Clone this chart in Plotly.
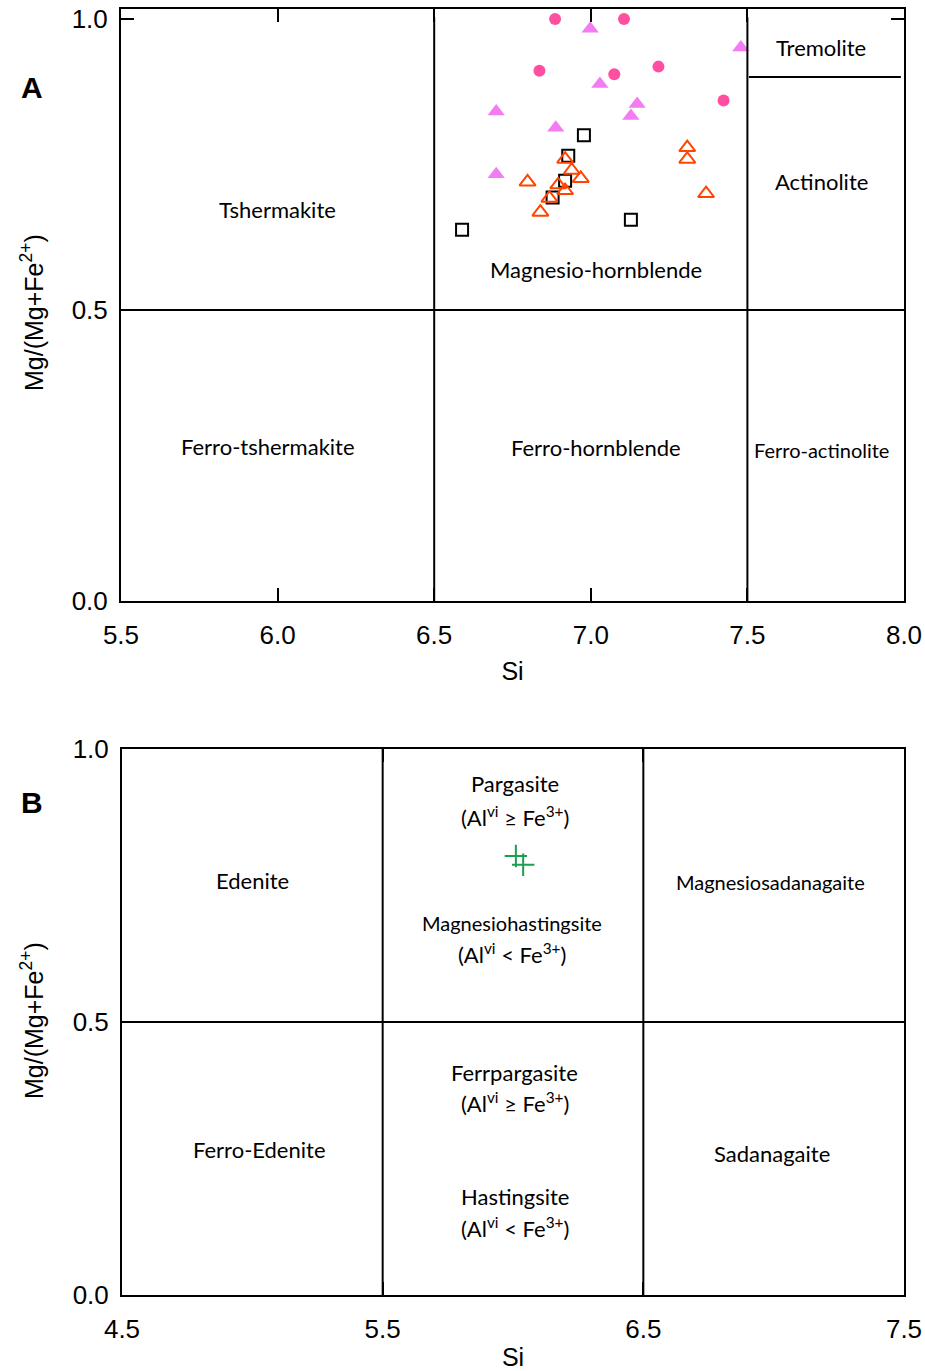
import plotly.graph_objects as go

# ---- Panel A: calcic amphiboles (Si vs Mg/(Mg+Fe2+)) ----
circle_si = [6.886, 7.106, 6.836, 7.075, 7.216, 7.424]
circle_mg = [1.000, 1.000, 0.911, 0.905, 0.918, 0.860]

tri_fill_si = [6.998, 7.479, 7.029, 6.698, 7.148, 7.128, 6.888, 6.698]
tri_fill_mg = [0.983, 0.951, 0.888, 0.841, 0.854, 0.833, 0.813, 0.733]

square_si = [6.978, 6.928, 6.918, 6.878, 6.589, 7.128]
square_mg = [0.800, 0.765, 0.722, 0.693, 0.638, 0.655]

tri_open_si = [7.308, 7.308, 6.918, 6.939, 6.968, 6.798, 6.896, 6.918, 6.868, 7.368, 6.839]
tri_open_mg = [0.779, 0.759, 0.759, 0.740, 0.726, 0.720, 0.715, 0.705, 0.692, 0.700, 0.668]

# ---- Panel B: sodic-calcic field ----
cross_si = [6.011, 6.039]
cross_mg = [0.804, 0.788]

xticks_a = [5.5, 6.0, 6.5, 7.0, 7.5, 8.0]
xticks_b = [4.5, 5.5, 6.5, 7.5]
yticks = [0.0, 0.5, 1.0]

ge = "(Al<sup>vi</sup> ≥ Fe<sup>3+</sup>)"
lt = "(Al<sup>vi</sup> < Fe<sup>3+</sup>)"
names_a = ["Tremolite", "Actinolite", "Tshermakite", "Magnesio-hornblende",
           "Ferro-tshermakite", "Ferro-hornblende", "Ferro-actinolite"]
names_b = ["Pargasite", ge, "Edenite", "Magnesiosadanagaite", "Magnesiohastingsite", lt,
           "Ferrpargasite", ge, "Ferro-Edenite", "Sadanagaite", "Hastingsite", lt]

fig = go.Figure()

fig.add_trace(go.Scatter(x=circle_si, y=circle_mg, mode="markers", xaxis="x", yaxis="y",
                         marker=dict(symbol="circle", size=12, color="#FF4FA0")))
fig.add_trace(go.Scatter(x=tri_fill_si, y=tri_fill_mg, mode="markers", xaxis="x", yaxis="y",
                         marker=dict(symbol="triangle-up", size=15, color="#F27CF2")))
fig.add_trace(go.Scatter(x=square_si, y=square_mg, mode="markers", xaxis="x", yaxis="y",
                         marker=dict(symbol="square-open", size=12, color="black",
                                     line=dict(width=2, color="black"))))
fig.add_trace(go.Scatter(x=tri_open_si, y=tri_open_mg, mode="markers", xaxis="x", yaxis="y",
                         marker=dict(symbol="triangle-up-open", size=14, color="#FF4500",
                                     line=dict(width=2, color="#FF4500"))))
fig.add_trace(go.Scatter(x=cross_si, y=cross_mg, mode="markers", xaxis="x2", yaxis="y2",
                         marker=dict(symbol="cross-thin", size=16, color="#1E9E50",
                                     line=dict(width=2, color="#1E9E50"))))

axis_common = dict(showline=True, mirror="ticks", linecolor="black", linewidth=2,
                   ticks="inside", ticklen=13, tickwidth=2, tickcolor="black",
                   showgrid=False, zeroline=False, automargin=False)

xfont = dict(family="Liberation Sans Narrow, Arial Narrow, sans-serif", size=26, color="black")
yfont = dict(family="Liberation Sans, Arial, sans-serif", size=26, color="black")


def xtitle(standoff):
    return dict(text="Si", font=dict(family="Liberation Sans Narrow, Arial Narrow, sans-serif",
                                     size=25, color="black"), standoff=standoff)


fig.update_layout(
    width=925, height=1371,
    margin=dict(l=0, r=0, t=0, b=0),
    paper_bgcolor="white", plot_bgcolor="white",
    showlegend=False,
    xaxis=dict(domain=[0.1308, 0.9773], range=[5.5, 8.0], tickvals=xticks_a,
               ticktext=[f"{v:.1f}" for v in xticks_a], tickfont=xfont, title=xtitle(13),
               ticklabelstandoff=10, anchor="y", **axis_common),
    yaxis=dict(domain=[0.5616, 0.99344], range=[0, 1.017], tickvals=yticks,
               ticktext=[f"{v:.1f}" for v in yticks], tickfont=yfont,
               ticklabelstandoff=6, anchor="x", **axis_common),
    xaxis2=dict(domain=[0.1319, 0.9773], range=[4.5, 7.5], tickvals=xticks_b,
                ticktext=[f"{v:.1f}" for v in xticks_b], tickfont=xfont, title=xtitle(7),
                ticklabelstandoff=10, anchor="y2", **axis_common),
    yaxis2=dict(domain=[0.05543, 0.4537], range=[0, 1.0], tickvals=yticks,
                ticktext=[f"{v:.1f}" for v in yticks], tickfont=yfont,
                ticklabelstandoff=6, anchor="x2", **axis_common),
)

line_style = dict(color="black", width=2)
shapes = [
    # panel A field boundaries
    dict(type="line", xref="x", yref="y", x0=6.5, x1=6.5, y0=0, y1=1.003, line=line_style),
    dict(type="line", xref="x", yref="y", x0=7.5, x1=7.5, y0=0, y1=1.003, line=line_style),
    dict(type="line", xref="x", yref="y", x0=5.5, x1=8.0, y0=0.5, y1=0.5, line=line_style),
    dict(type="line", xref="x", yref="y", x0=7.505, x1=7.99, y0=0.9, y1=0.9, line=line_style),
    # panel B field boundaries
    dict(type="line", xref="x2", yref="y2", x0=5.5, x1=5.5, y0=0, y1=1.0, line=line_style),
    dict(type="line", xref="x2", yref="y2", x0=6.5, x1=6.5, y0=0, y1=1.0, line=line_style),
    dict(type="line", xref="x2", yref="y2", x0=4.53, x1=7.485, y0=0.5, y1=0.5, line=line_style),
]
fig.update_layout(shapes=shapes)

# field-name placement inside each panel (data coordinates)
pos_a = [(7.735, 0.950), (7.735, 0.720), (6.001, 0.672), (7.017, 0.569),
         (5.969, 0.266), (7.017, 0.263), (7.735, 0.259)]
pos_b = [(6.007, 0.936), (6.007, 0.877), (5.002, 0.760), (6.986, 0.756),
         (5.996, 0.681), (5.996, 0.626), (6.007, 0.408), (6.007, 0.352),
         (5.026, 0.266), (6.993, 0.260), (6.007, 0.181), (6.007, 0.123)]
long_names = {"Ferro-actinolite", "Magnesiosadanagaite", "Magnesiohastingsite"}


def label_font(text):
    return dict(family="Lato, Carlito, Calibri, sans-serif",
                size=20 if text in long_names else 22, color="black")


annotations = []
for text, (x, y) in zip(names_a, pos_a):
    annotations.append(dict(text=text, x=x, y=y, xref="x", yref="y", showarrow=False,
                            font=label_font(text)))
for text, (x, y) in zip(names_b, pos_b):
    annotations.append(dict(text=text, x=x, y=y, xref="x2", yref="y2", showarrow=False,
                            font=label_font(text)))

# panel letters and vertical axis titles
panel_font = dict(family="Liberation Sans, Arial, sans-serif", size=30, color="black")
ytitle_font = dict(family="Liberation Sans, Arial, sans-serif", size=25, color="black")
for letter, ly, ty in [("A", 87, 313), ("B", 802, 1021)]:
    annotations.append(dict(text=f"<b>{letter}</b>", x=32 / 925, y=1 - ly / 1371,
                            xref="paper", yref="paper", xanchor="center", yanchor="middle",
                            showarrow=False, font=panel_font))
    annotations.append(dict(text="Mg/(Mg+Fe<sup>2+</sup>)", x=32 / 925, y=1 - ty / 1371,
                            xref="paper", yref="paper", xanchor="center", yanchor="middle",
                            textangle=-90, showarrow=False, font=ytitle_font))
fig.update_layout(annotations=annotations)

fig.write_html("out.html")
